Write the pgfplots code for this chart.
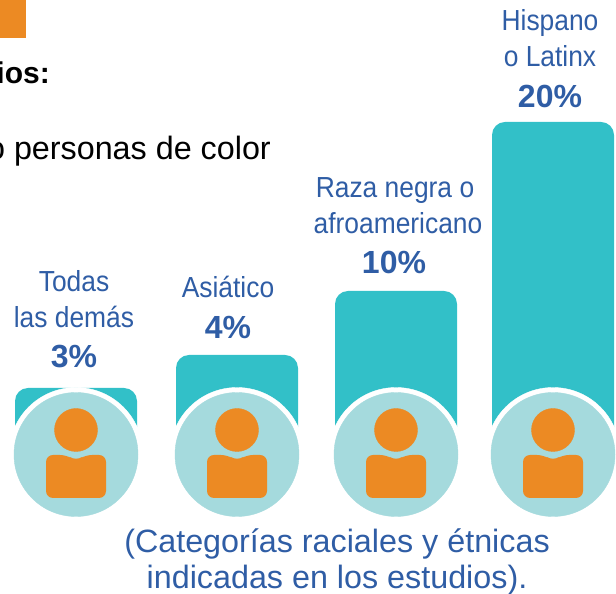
\documentclass[border=0pt]{standalone}
\usepackage{pgfplots}
\pgfplotsset{compat=1.18}
\usepackage{fontspec}
\setmainfont{Liberation Sans}
\definecolor{teal1}{HTML}{32C0C8}
\definecolor{pale}{HTML}{A5DADD}
\definecolor{orng}{HTML}{EC8A23}
\definecolor{blu}{HTML}{2F5DA5}
\pgfplotstableread{
x h
76 52
237 85
396 149
553 318
}\bars
\pgfplotstableread{
x y
76 -14.5
237 -14.5
396 -14.5
553 -14.5
}\circles
\pgfplotstableread{
x y
76 10
237 10
396 10
553 10
}\heads
\newcommand{\tx}[3]{\node[text=blu,font=\fontsize{29pt}{29pt}\selectfont,xscale=0.91,inner sep=0pt,anchor=base] at (axis cs:#1,#2) {#3};}
\newcommand{\pc}[3]{\node[text=blu,font=\fontsize{32pt}{32pt}\selectfont\bfseries,xscale=1.0,inner sep=0pt,anchor=base] at (axis cs:#1,#2) {#3};}
\pgfplotsset{base/.style={at={(0,0)},anchor=south west,scale only axis,width=616pt,height=594pt,
  xmin=0,xmax=616,ymin=-154,ymax=440,hide axis,clip=false}}
\begin{document}
\begin{tikzpicture}
\path[use as bounding box] (0,0) rectangle (616pt,594pt);
\begin{axis}[base]
\addplot[fill=orng,draw=none] coordinates {(-5,440) (26,440) (26,402) (-5,402)} --cycle;
\addplot[ybar,bar width=122pt,bar shift=0pt,fill=teal1,draw=none,rounded corners=13pt] table[x=x,y=h] {\bars};
\addplot[only marks,mark=*,mark size=67pt,color=white] table {\circles};
\addplot[only marks,mark=*,mark size=62pt,color=pale] table {\circles};
\addplot[only marks,mark=*,mark size=21.5pt,color=orng] table {\heads};
\tx{74}{148}{Todas}
\tx{74}{112}{las demás}
\pc{74}{72}{3\%}
\tx{228}{142}{Asiático}
\pc{228}{101}{4\%}
\tx{395}{242}{Raza negra o}
\tx{398}{206}{afroamericano}
\pc{394}{166}{10\%}
\tx{550}{409}{Hispano}
\tx{550}{373}{o Latinx}
\pc{550}{332}{20\%}
\node[text=blu,font=\fontsize{32.3pt}{32.3pt}\selectfont,inner sep=0pt] at (axis cs:337,-104) {(Categorías raciales y étnicas};
\node[text=blu,font=\fontsize{32.3pt}{32.3pt}\selectfont,inner sep=0pt] at (axis cs:337,-140) {indicadas en los estudios).};
\node[text=black,font=\fontsize{30pt}{30pt}\selectfont\bfseries,inner sep=0pt,anchor=east] at (axis cs:50,367) {ios:};
\node[text=black,font=\fontsize{32.3pt}{32.3pt}\selectfont,inner sep=0pt,anchor=east] at (axis cs:271,289) {o personas de color};
\end{axis}
\begin{axis}[base]
\addplot[fill=orng,draw=none,rounded corners=7pt] coordinates {(46,-58) (106,-58) (106,-15) (85,-15) (76,-21) (67,-15) (46,-15)} --cycle;
\addplot[fill=orng,draw=none,rounded corners=7pt] coordinates {(207,-58) (267,-58) (267,-15) (246,-15) (237,-21) (228,-15) (207,-15)} --cycle;
\addplot[fill=orng,draw=none,rounded corners=7pt] coordinates {(366,-58) (426,-58) (426,-15) (405,-15) (396,-21) (387,-15) (366,-15)} --cycle;
\addplot[fill=orng,draw=none,rounded corners=7pt] coordinates {(523,-58) (583,-58) (583,-15) (562,-15) (553,-21) (544,-15) (523,-15)} --cycle;
\end{axis}
\end{tikzpicture}
\end{document}
